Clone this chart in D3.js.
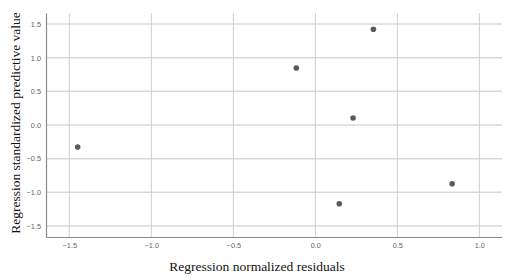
<!DOCTYPE html>
<html><head><meta charset="utf-8">
<script src="https://cdn.jsdelivr.net/npm/d3@7"></script>
<style>body{margin:0;background:#fff}svg{display:block}</style>
</head><body>
<svg id="c" width="513" height="280"></svg>
<script>
const residuals = [-1.449, -0.116, 0.354, 0.230, 0.146, 0.834];
const predicted = [-0.327, 0.847, 1.422, 0.104, -1.169, -0.872];
const xTicks = [-1.5, -1.0, -0.5, 0.0, 0.5, 1.0];
const yTicks = [-1.5, -1.0, -0.5, 0.0, 0.5, 1.0, 1.5];
const xTitle = "Regression normalized residuals";
const yTitle = "Regression standardized predictive value";

const svg = d3.select("#c");
const L = 46, R = 502, T = 13, B = 237;
const x = d3.scaleLinear().domain([-1.642, 1.138]).range([L, R]);
const y = d3.scaleLinear().domain([-1.664, 1.664]).range([B, T]);

// grid
svg.append("g").selectAll("line").data(yTicks).join("line")
  .attr("x1", L).attr("x2", R).attr("y1", d => y(d)).attr("y2", d => y(d))
  .attr("stroke", "#d9d9d9").attr("stroke-width", 1.5);
svg.append("g").selectAll("line").data(xTicks).join("line")
  .attr("y1", T).attr("y2", B).attr("x1", d => x(d)).attr("x2", d => x(d))
  .attr("stroke", "#cfcfcf").attr("stroke-width", 1);

// axes
const fmt = d3.format(".1f");
const xAxis = svg.append("g").attr("transform", `translate(0,${B})`)
  .call(d3.axisBottom(x).tickValues(xTicks).tickFormat(fmt).tickSize(0).tickPadding(6));
const yAxis = svg.append("g").attr("transform", `translate(${L},0)`)
  .call(d3.axisLeft(y).tickValues(yTicks).tickFormat(fmt).tickSize(0).tickPadding(5));
[xAxis, yAxis].forEach(a => {
  a.select(".domain").attr("stroke", "#8a8a8a").attr("stroke-width", 1.2);
  a.selectAll("text").attr("font-family", "Arial, 'Liberation Sans', sans-serif")
    .attr("font-size", 7.3).attr("fill", "#666");
});

// points
svg.append("g").selectAll("circle").data(residuals.map((r, i) => [r, predicted[i]])).join("circle")
  .attr("cx", d => x(d[0])).attr("cy", d => y(d[1])).attr("r", 2.8)
  .attr("fill", "#5a5a5a");

// titles
svg.append("text").attr("x", 257).attr("y", 271).attr("text-anchor", "middle")
  .attr("font-family", "'Liberation Serif', 'Times New Roman', serif").attr("font-size", 13.5)
  .attr("fill", "#111").text(xTitle);
svg.append("text").attr("transform", "translate(20,123) rotate(-90)").attr("text-anchor", "middle")
  .attr("font-family", "'Liberation Serif', 'Times New Roman', serif").attr("font-size", 13.5)
  .attr("fill", "#111").text(yTitle);
</script>
</body></html>
